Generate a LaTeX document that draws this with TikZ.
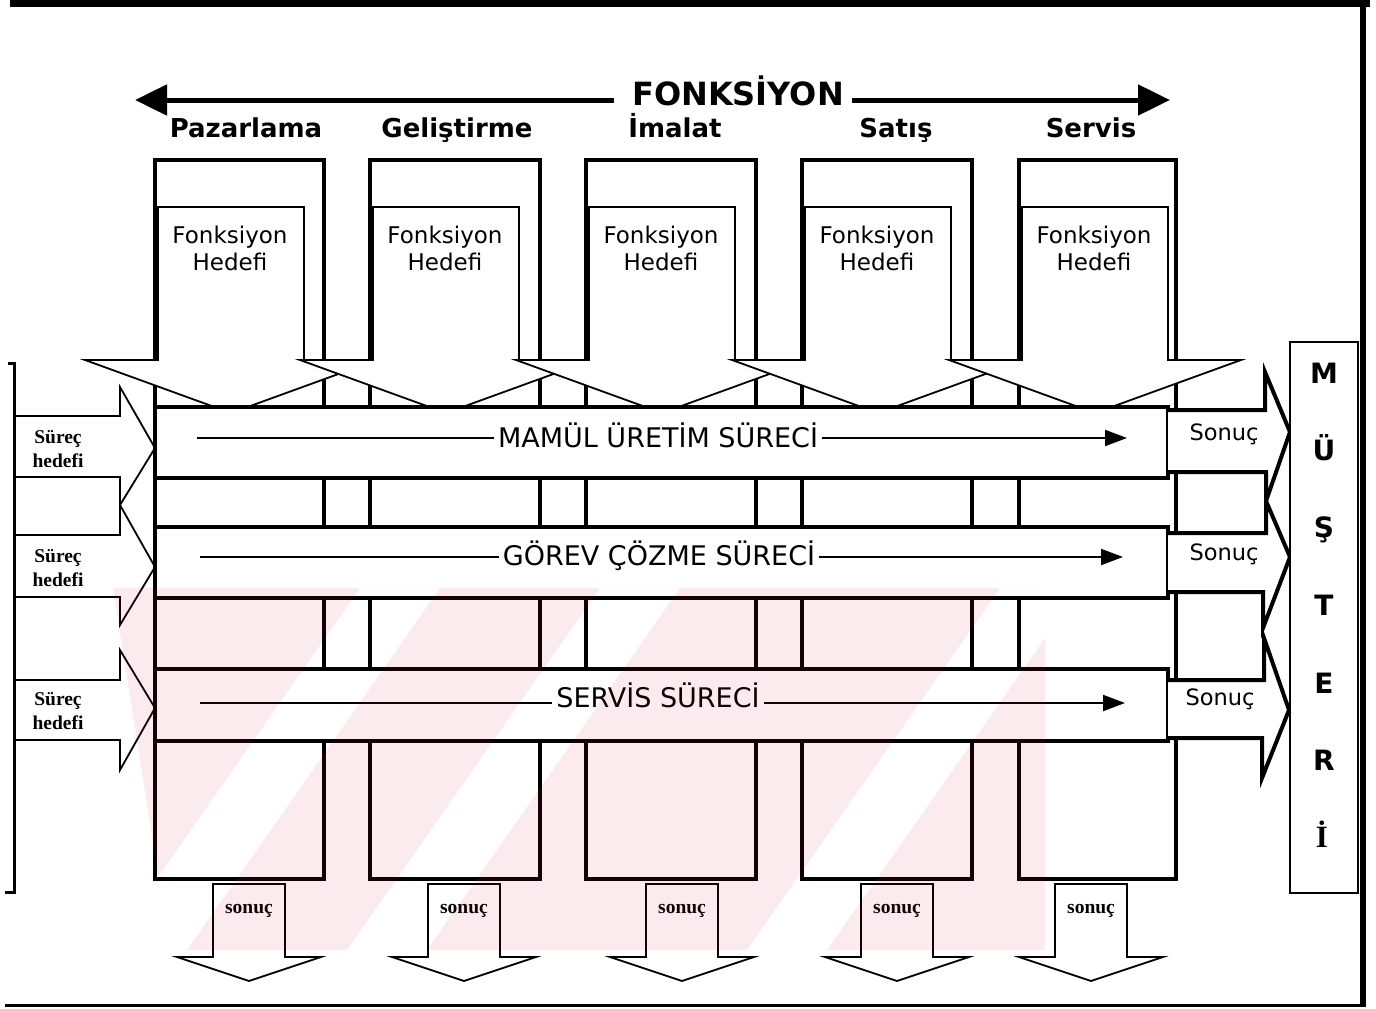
\documentclass[tikz,border=0pt]{standalone}
\usepackage{fontspec}
\setmainfont{DejaVu Sans}
\newfontfamily\tnr{Liberation Serif}
\usetikzlibrary{arrows.meta}
\definecolor{wmpink}{RGB}{230,30,63}
\tikzset{
  colbox/.style={draw=black, fill=white, line width=4.5pt},
  thinarrow/.style={draw=black, fill=white, line width=1.8pt, line join=miter},
  thickarrow/.style={draw=black, fill=white, line width=4pt, line join=miter},
  band/.style={draw=black, fill=white, line width=4pt},
  bandtext/.style={font=\fontsize{27}{30}\selectfont, inner sep=4pt, anchor=base},
  bandline/.style={line width=2pt},
  fhtext/.style={font=\fontsize{23}{26}\selectfont, inner sep=0pt, anchor=base},
  collabel/.style={font=\bfseries\fontsize{26}{30}\selectfont, inner sep=0pt, anchor=base},
  serifsmall/.style={font=\tnr\bfseries\fontsize{19.5}{22}\selectfont, inner sep=0pt, anchor=base},
  sonuctext/.style={font=\fontsize{22.5}{25}\selectfont, inner sep=0pt, anchor=base},
  musteri/.style={font=\bfseries\fontsize{28}{30}\selectfont, inner sep=0pt, anchor=base},
  bigarrow/.style={line width=5pt, -{Triangle[length=32pt,width=30pt]}},
  bandarrow/.style={line width=2pt, -{Triangle[length=22pt,width=16pt]}},
}
\begin{document}
\begin{tikzpicture}[x=1pt,y=-1pt]
\useasboundingbox (0,0) rectangle (1376,1009);
\fill[white] (0,0) rectangle (1376,1009);

% function columns (outer boxes)
\foreach \L/\R in {155/324,370/540,586/756,802/972,1019/1176}
  \path[colbox] (\L,160) rectangle (\R,879);

% inner down arrows with goals
\foreach \S [count=\i] in {158,373,589,805,1022} {
  \path[thinarrow] (\S,207) -- (\S+146,207) -- (\S+146,360) -- (\S+219,360) -- (\S+73,413) -- (\S-73,360) -- (\S,360) -- cycle;
  \node[fhtext] (fa\i) at (\S+72,243) {Fonksiyon};
  \node[fhtext] (fb\i) at (\S+72,270) {Hedefi};
}

% process goal arrows (left)
\path[thinarrow] (14,416) -- (120,416) -- (120,387) -- (155,448) -- (120,505) -- (120,477) -- (14,477);
\path[thinarrow] (14,535) -- (120,535) -- (120,505) -- (155,567) -- (120,625) -- (120,597) -- (14,597);
\path[thinarrow] (14,680) -- (120,680) -- (120,650) -- (155,708) -- (120,770) -- (120,740) -- (14,740);
\node[serifsmall] (sh1a) at (58,443) {Süreç};
\node[serifsmall] (sh1b) at (58,467) {hedefi};
\node[serifsmall] (sh2a) at (58,562) {Süreç};
\node[serifsmall] (sh2b) at (58,586) {hedefi};
\node[serifsmall] (sh3a) at (58,705) {Süreç};
\node[serifsmall] (sh3b) at (58,729) {hedefi};

% process bands
\path[band] (155,407) rectangle (1168,478);
\path[band] (155,527) rectangle (1168,598);
\path[band] (155,669) rectangle (1168,741);

\node[bandtext] (t1) at (658,447) {MAMÜL ÜRETİM SÜRECİ};
\coordinate (t1s) at (197,438); \coordinate (t1e) at (1127,438);
\draw[bandline] (t1s) -- (t1s -| t1.west);
\draw[bandarrow] (t1e -| t1.east) -- (t1e);

\node[bandtext] (t2) at (659,565) {GÖREV ÇÖZME SÜRECİ};
\coordinate (t2s) at (200,557); \coordinate (t2e) at (1123,557);
\draw[bandline] (t2s) -- (t2s -| t2.west);
\draw[bandarrow] (t2e -| t2.east) -- (t2e);

\node[bandtext] (t3) at (658,707) {SERVİS SÜRECİ};
\coordinate (t3s) at (200,703); \coordinate (t3e) at (1125,703);
\draw[bandline] (t3s) -- (t3s -| t3.west);
\draw[bandarrow] (t3e -| t3.east) -- (t3e);

% result arrows (right)
\path[thickarrow] (1168,410) -- (1265,410) -- (1265,372) -- (1290,432) -- (1266,501) -- (1266,472) -- (1168,472);
\path[thickarrow] (1168,533) -- (1266,533) -- (1266,501) -- (1290,557) -- (1263,628) -- (1263,592) -- (1168,592);
\path[thickarrow] (1168,680) -- (1264,680) -- (1264,638) -- (1289,710) -- (1262,778) -- (1262,738) -- (1168,738);
\node[sonuctext] (so1) at (1224,440) {Sonuç};
\node[sonuctext] (so2) at (1224,560) {Sonuç};
\node[sonuctext] (so3) at (1220,705) {Sonuç};

% customer box
\path[draw=black, fill=white, line width=2pt] (1290,342) rectangle (1358,893);
\node[musteri] (m1) at (1324,383) {M};
\node[musteri] (m2) at (1324,460) {Ü};
\node[musteri] (m3) at (1324,537) {Ş};
\node[musteri] (m4) at (1324,615) {T};
\node[musteri] (m5) at (1324,693) {E};
\node[musteri] (m6) at (1324,770) {R};
\node[font=\tnr\bfseries\fontsize{31}{33}\selectfont, inner sep=0pt, anchor=base] (m7) at (1322,847) {İ};

% bottom result arrows
\foreach \c [count=\i] in {249,464,682,897,1091} {
  \path[thinarrow] (\c-36,884) -- (\c+36,884) -- (\c+36,957) -- (\c+72,957) -- (\c,981) -- (\c-72,957) -- (\c-36,957) -- cycle;
  \node[serifsmall] (bs\i) at (\c,913) {sonuç};
}

% frame
\draw[line width=7pt] (10,3.5) -- (1370,3.5);
\draw[line width=6pt] (1363,0) -- (1363,1007);
\draw[line width=3pt] (5,1005.5) -- (1366,1005.5);
\draw[line width=3pt] (8,363) -- (14,363) -- (14,892) -- (5,892);

% top function arrow and labels
\node[font=\bfseries\fontsize{32}{36}\selectfont, inner sep=0pt, anchor=base] (fk) at (738,105) {FONKSİYON};
\coordinate (fkl) at (614,100); \coordinate (fkr) at (852,100);
\coordinate (fl) at (135,100); \coordinate (fr) at (1170,100);
\draw[bigarrow] (fkl) -- (fl);
\draw[bigarrow] (fkr) -- (fr);
\node[collabel] (lp) at (246,137) {Pazarlama};
\node[collabel] (lg) at (457,137) {Geliştirme};
\node[collabel] (li) at (675,137) {İmalat};
\node[collabel] (ls) at (896,137) {Satış};
\node[collabel] (lv) at (1091,137) {Servis};

% watermark (faint)
\begin{scope}
  \clip (113,588) -- (1045,588) -- (1045,950) -- (170,950) -- cycle;
  \fill[wmpink, fill opacity=0.085, even odd rule] (100,588) rectangle (1045,950)
    (360,588) -- (440,588) -- (187,950) -- (107,950) -- cycle
    (600,588) -- (680,588) -- (427,950) -- (347,950) -- cycle
    (1000,588) -- (1080,588) -- (827,950) -- (747,950) -- cycle;
\end{scope}
\end{tikzpicture}
\end{document}
